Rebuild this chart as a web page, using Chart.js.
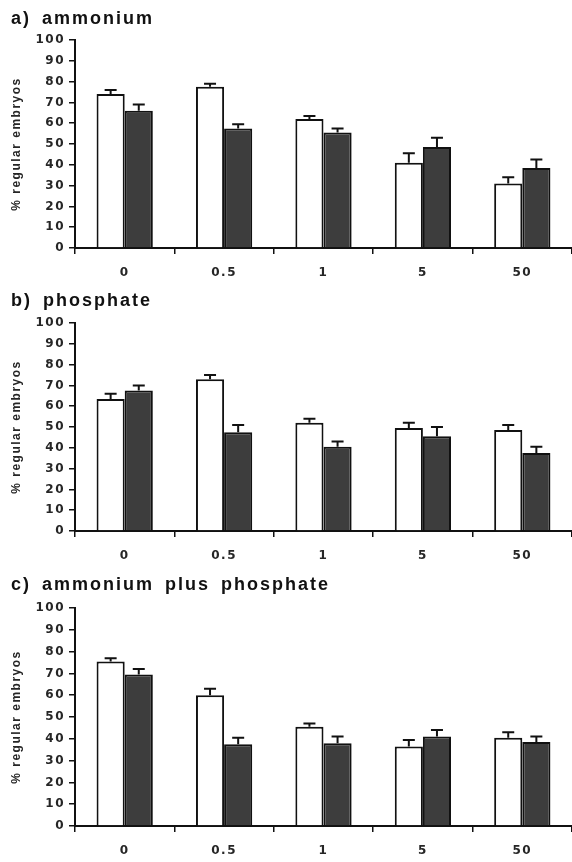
<!DOCTYPE html>
<html>
<head>
<meta charset="utf-8">
<script src="https://cdn.jsdelivr.net/npm/chart.js@4.4.1/dist/chart.umd.min.js"></script>
<style>
  html, body { margin: 0; padding: 0; background: #fff; width: 572px; height: 862px; overflow: hidden; position: relative; }
  canvas { position: absolute; left: 0; }
  .ttl { position: absolute; left: 11px; font: bold 18px "Liberation Sans", Arial, sans-serif; letter-spacing: 2px; word-spacing: 4px; line-height: 20px; color: #111; white-space: pre; }
</style>
</head>
<body>
<canvas id="chartA" width="572" height="290" style="top:0px"></canvas>
<canvas id="chartB" width="572" height="290" style="top:283px"></canvas>
<canvas id="chartC" width="572" height="300" style="top:568px"></canvas>
<div class="ttl" style="top:8px">a) ammonium</div>
<div class="ttl" style="top:290px">b) phosphate</div>
<div class="ttl" style="top:574px">c) ammonium plus phosphate</div>
<script>
const doses = ['0', '0.5', '1', '5', '50'];

// a) ammonium
const ammoniumWhite = [74, 77.5, 62, 41, 31];
const ammoniumWhiteErr = [2, 1.5, 1.5, 4.5, 3];
const ammoniumDark = [66, 57.5, 55.5, 48.5, 38.5];
const ammoniumDarkErr = [3, 2, 2, 4.5, 4];

// b) phosphate
const phosphateWhite = [63.5, 73, 52, 49.5, 48.5];
const phosphateWhiteErr = [2.5, 2, 2, 2.5, 2.5];
const phosphateDark = [67.5, 47.5, 40.5, 45.5, 37.5];
const phosphateDarkErr = [2.5, 3.5, 2.5, 4.5, 3];

// c) ammonium plus phosphate
const bothWhite = [75.5, 60, 45.5, 36.5, 40.5];
const bothWhiteErr = [1.5, 3, 1.5, 3, 2.5];
const bothDark = [69.5, 37.5, 38, 41, 38.5];
const bothDarkErr = [2.5, 3, 3, 3, 2.5];

const yTicks = [0, 10, 20, 30, 40, 50, 60, 70, 80, 90, 100];

const ink = '#111';
const textColor = '#262626';
const darkFill = '#3d3d3d';

// wide letter spacing like the scanned figure
const spacingPlugin = {
  id: 'spacing',
  beforeUpdate(chart) { chart.ctx.letterSpacing = '1.5px'; },
  beforeDraw(chart) { chart.ctx.letterSpacing = '1.5px'; }
};

// upper error bars with a cap
const errorBarPlugin = {
  id: 'errorBars',
  afterDatasetsDraw(chart) {
    const ctx = chart.ctx;
    const yScale = chart.scales.y;
    chart.data.datasets.forEach((ds, i) => {
      const meta = chart.getDatasetMeta(i);
      meta.data.forEach((bar, j) => {
        const top = yScale.getPixelForValue(ds.data[j] + ds.errors[j]);
        ctx.save();
        ctx.strokeStyle = ink;
        ctx.lineWidth = 2;
        ctx.beginPath();
        ctx.moveTo(bar.x, bar.y);
        ctx.lineTo(bar.x, top);
        ctx.moveTo(bar.x - 6, top);
        ctx.lineTo(bar.x + 6, top);
        ctx.stroke();
        ctx.restore();
      });
    });
  }
};

function makeChart(id, white, whiteErr, dark, darkErr) {
  const ctx = document.getElementById(id).getContext('2d');
  return new Chart(ctx, {
    type: 'bar',
    data: {
      labels: doses,
      datasets: [
        { data: white, errors: whiteErr, backgroundColor: '#fff', borderColor: ink, borderWidth: 2 },
        { data: dark, errors: darkErr, backgroundColor: darkFill, borderColor: ink, borderWidth: 2 }
      ]
    },
    options: {
      responsive: false,
      animation: false,
      layout: { padding: { top: 40, bottom: 6, left: 0, right: 0 } },
      datasets: { bar: { categoryPercentage: 0.566, barPercentage: 1.0 } },
      plugins: { legend: { display: false }, tooltip: { enabled: false } },
      scales: {
        x: {
          offset: true,
          grid: { display: true, offset: true, drawOnChartArea: false, drawTicks: true, tickLength: 6, color: ink, lineWidth: 1.5 },
          border: { display: true, color: ink, width: 2 },
          ticks: { color: textColor, font: { family: 'DejaVu Sans', size: 12, weight: 'bold' }, padding: 12, maxRotation: 0 },
          afterFit(scale) { scale.height = 36; }
        },
        y: {
          min: 0,
          max: 100,
          afterBuildTicks(scale) { scale.ticks = yTicks.map(v => ({ value: v })); },
          ticks: { color: textColor, font: { family: 'DejaVu Sans', size: 12, weight: 'bold' }, padding: 4 },
          grid: { drawOnChartArea: false, drawTicks: true, tickLength: 6, color: ink, lineWidth: 1.5 },
          border: { display: true, color: ink, width: 2 },
          title: {
            display: true,
            text: '% regular embryos',
            color: textColor,
            font: { family: 'Liberation Sans', size: 12, weight: 'bold' },
            padding: { top: 9, bottom: 0 }
          },
          afterFit(scale) { scale.width = 75; }
        }
      }
    },
    plugins: [spacingPlugin, errorBarPlugin]
  });
}

makeChart('chartA', ammoniumWhite, ammoniumWhiteErr, ammoniumDark, ammoniumDarkErr);
makeChart('chartB', phosphateWhite, phosphateWhiteErr, phosphateDark, phosphateDarkErr);
makeChart('chartC', bothWhite, bothWhiteErr, bothDark, bothDarkErr);
</script>
</body>
</html>
